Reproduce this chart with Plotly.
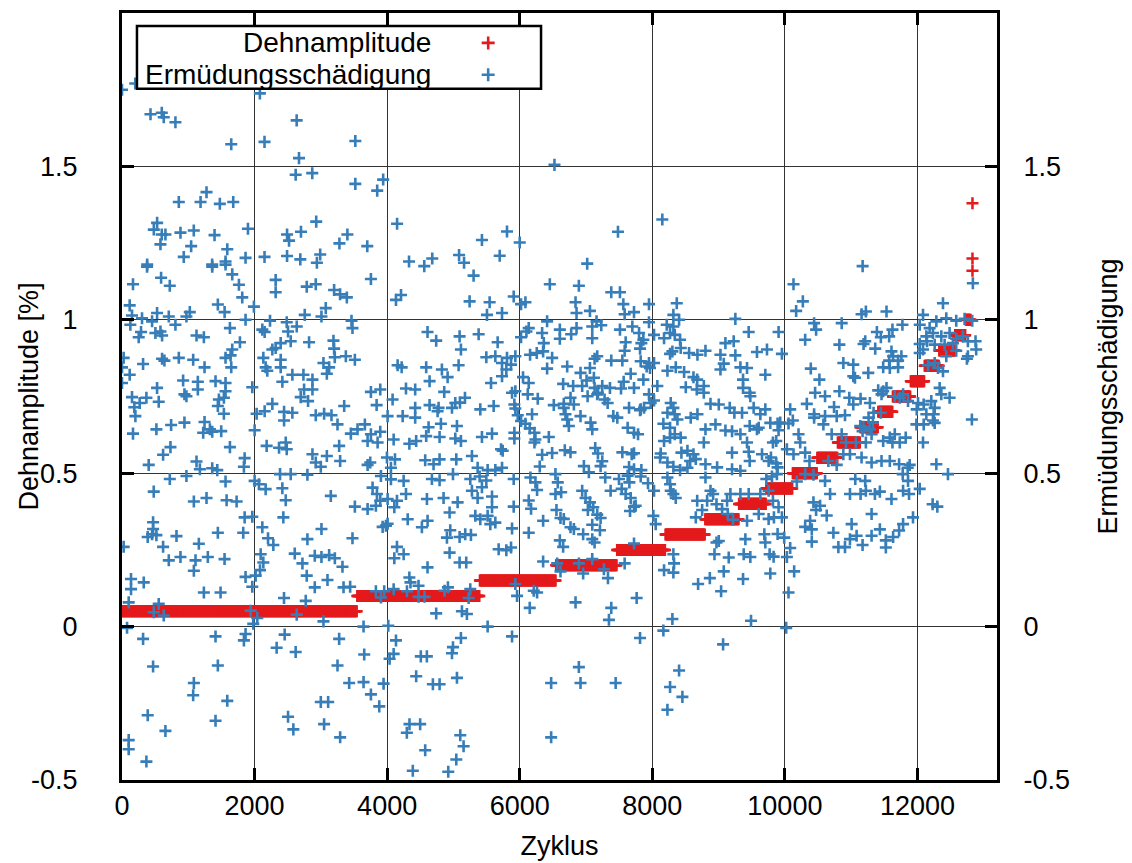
import numpy as np
import plotly.graph_objects as go

# ---------------- data ----------------
# Dehnamplitude: constant-amplitude blocks (level, block boundaries in cycles)
step_levels = [0.05, 0.10, 0.15, 0.20, 0.25, 0.30, 0.35, 0.40, 0.45, 0.50,
               0.55, 0.60, 0.65, 0.70, 0.75, 0.80, 0.85, 0.90, 0.95, 1.00]
step_bounds = [0, 3550, 5400, 6550, 7470, 8200, 8800, 9310, 9720, 10120, 10490,
               10800, 11140, 11410, 11630, 11900, 12110, 12330, 12570, 12730, 12810]
step_spacing = 10
final_x = [12830, 12830, 12830]
final_y = [1.16, 1.20, 1.38]

# Ermüdungsschädigung (cycle, value)
damage_left = [
(0,1.75),(200,1.77),(430,1.67),(600,1.675),(630,1.66),(806,1.644),(1648,1.572),(2080,1.738),(2150,1.58),
(2635,1.65),(2670,1.527),(2620,1.473),(2870,1.478),(3520,1.583),(3520,1.443),(3850,1.421),(3940,1.457),
(4150,1.313),(857,1.384),(1185,1.384),(1275,1.416),(1476,1.378),(1678,1.384),(530,1.316),(480,1.294),
(600,1.278),(655,1.278),(882,1.284),(1083,1.291),(1396,1.276),(1900,1.297),(580,1.246),(1043,1.24),
(1588,1.23),(932,1.205),(1360,1.18),(1562,1.19),(1864,1.202),(380,1.18),(2150,1.205),(2490,1.208),
(2690,1.197),(2990,1.213),(2940,1.186),(2490,1.278),(2520,1.258),(2700,1.287),(2930,1.32),(3280,1.249),
(3400,1.278),(3700,1.24),(4330,1.19),
(378,1.173),(1361,1.173),(1562,1.18),(1663,1.148),(1764,1.114),(166,1.116),(590,1.137),(721,1.111),
(1814,1.073),(1990,1.043),(1446,1.05),(1548,1.025),(2318,1.13),(2318,1.09),(2787,1.108),(2923,1.116),
(3200,1.097),(3290,1.083),(3392,1.073),(3755,1.133),(4133,1.065),(4209,1.081),(2757,1.016),(3009,1.011),
(3074,1.038),(3462,0.997),(3477,0.973),(116,1.047),
(151,1.014),(302,1.005),(454,0.995),(529,1.022),(706,1.011),(806,0.984),(972,1.011),(1023,1.025),
(126,0.984),(287,0.96),(252,0.943),(504,0.957),(580,0.962),(605,0.949),(1124,0.949),(1235,0.943),
(1628,0.973),(1864,1.0),(1779,0.927),(2233,0.997),(2117,0.968),(2152,0.96),(2485,0.992),(2636,0.978),
(2505,0.962),(2545,0.93),(2394,0.924),(2318,0.908),(2268,0.903),(2822,0.927),(3190,0.932),(3200,0.906),
(3210,0.878),(3377,0.881),(3513,0.87),(3039,0.859),(3125,0.845),(3090,0.824),(4158,0.852),(4219,0.845),
(25,0.876),(0,0.845),(116,0.821),(0,0.794),(318,0.856),(605,0.873),(640,0.867),(857,0.876),(1074,0.87),
(1245,0.845),(1562,0.876),(1638,0.884),(1648,0.845),(1663,0.903),(2132,0.876),(2394,0.87),(2394,0.845),
(2167,0.845),(2192,0.834),(2419,0.798),(2570,0.821),(2737,0.821),(2873,0.805),(2747,0.773),(2873,0.773),
(2696,0.748),(2807,0.735),(922,0.802),(1144,0.798),(1144,0.773),(942,0.757),(972,0.751),(1411,0.8),
(1562,0.794),(1562,0.767),(529,0.778),(1965,0.78),(3755,0.765),(3896,0.773),(4284,0.776),(3841,0.722),
(4082,0.74),
(151,0.748),(186,0.715),(267,0.729),(368,0.746),(554,0.733),(202,0.686),(1462,0.74),(1537,0.746),
(1446,0.719),(1537,0.694),(2031,0.694),(2152,0.702),(2268,0.726),(2445,0.7),(2570,0.697),(2445,0.672),
(2923,0.689),(3049,0.694),(3160,0.689),(3251,0.659),(3352,0.719),(1245,0.667),(1326,0.643),(1225,0.632),
(1361,0.635),(1497,0.637),(741,0.657),(519,0.643),(942,0.665),(166,0.629),(2001,0.64),(3452,0.629),
(3553,0.643),(3664,0.659),(3755,0.627),(3705,0.605),(3856,0.6),(3896,0.635),(4098,0.61),(4007,0.686),
(4234,0.686),(4335,0.596),
(731,0.585),(620,0.56),(1628,0.585),(2182,0.589),(2369,0.583),(2470,0.6),(2485,0.578),(3276,0.589),
(403,0.527),(1124,0.538),(1175,0.513),(1361,0.516),(1437,0.51),(1850,0.549),(1839,0.521),(2873,0.562),
(2923,0.535),(2999,0.521),(3090,0.556),(3291,0.54),(3705,0.527),(3745,0.535),(3997,0.551),(4118,0.545),
(4057,0.518),
(721,0.481),(972,0.491),(1562,0.473),(479,0.44),(1084,0.408),(1275,0.419),(1578,0.412),(1729,0.408),
(469,0.34),(469,0.318),(1850,0.356),(1965,0.358),(2001,0.475),(2066,0.464),(2167,0.448),(2384,0.497),
(2545,0.497),(2797,0.495),(2419,0.451),(2470,0.412),(3150,0.426),(3513,0.391),(3705,0.383),(3830,0.394),
(3780,0.453),(3846,0.432),(3906,0.491),(3896,0.41),(4007,0.416),(4108,0.389),(4148,0.41),(4057,0.48),
(4249,0.475),(4284,0.432),(2434,0.356),(2117,0.324),(3009,0.318),(4310,0.35),(3982,0.329),
(454,0.301),(388,0.292),(519,0.298),(822,0.295),(1159,0.27),(1446,0.306),(1829,0.306),(25,0.26),
(620,0.26),(706,0.216),(882,0.227),(1109,0.216),(1295,0.227),(1547,0.22),(1084,0.182),(2203,0.288),
(2283,0.266),(2092,0.236),(2132,0.209),(2082,0.184),(2016,0.166),(1864,0.162),(1965,0.13),(136,0.155),
(328,0.144),(136,0.122),(101,0.079),(1235,0.111),(1487,0.111),(2606,0.238),(2722,0.206),(2787,0.166),
(2908,0.128),(3100,0.152),(3342,0.128),(3442,0.13),(2797,0.285),(2908,0.231),(3009,0.227),(3125,0.233),
(3211,0.223),(3326,0.195),(3477,0.288),(2444,0.093),(2772,0.084),(554,0.074),(479,0.047),(630,0.036),
(1940,0.052),(2041,0.028),(1980,0.009),(2636,0.039),(3039,0.017),(76,-0.004),(318,-0.04),(1411,-0.032),
(1864,-0.024),(1839,-0.045),(2454,-0.026),(2333,-0.069),(2620,-0.083),(3276,-0.04),(3644,0.0),
(3654,-0.091),(4017,0.003),(469,-0.13),(1446,-0.127),(1084,-0.184),(1074,-0.224),(1588,-0.242),
(3251,-0.127),(3427,-0.184),(3644,-0.181),(3946,-0.186),(3755,-0.221),(3881,-0.26),(388,-0.289),
(655,-0.34),(1411,-0.307),(101,-0.37),(101,-0.4),(368,-0.44),(2505,-0.294),(2585,-0.335),(2999,-0.246),
(3110,-0.246),(3049,-0.318),(3291,-0.361),(4098,-0.089),(4037,-0.105),(4148,0.26),(4108,0.223),
(4249,0.236),(4335,0.16),(4299,0.115),(4098,0.122),(3956,0.115),(3830,0.115),(3906,0.095),(3932,0.325),
(4007,0.335),(4133,-0.045),
]

damage_middle = [
(6524,1.505),(8151,1.327),(7482,1.287),(7018,1.183),(6000,1.252),(5808,1.288),(5430,1.26),(5698,1.209),
(5085,1.211),(5160,1.186),(4680,1.2),(4560,1.175),
(5304,1.144),(5244,1.06),(5546,1.057),(5506,1.016),(5733,1.022),(5909,1.076),(6020,1.051),(6086,1.057),
(6454,1.116),(6892,1.111),(7381,1.09),(7512,1.09),(7563,1.051),(7724,1.025),(7583,1.018),(7950,1.051),
(8369,1.054),(6842,1.057),(6857,1.022),(7059,1.029),(8318,1.016),(8404,1.0),(6413,0.995),
(4609,0.96),(4740,0.932),(5093,0.946),(5113,0.903),(5380,0.953),(5667,0.927),(6101,0.962),(6020,0.943),
(6136,0.973),(6338,0.957),(6363,0.924),(6353,0.897),(6605,0.968),(6605,0.938),(6776,0.953),(6857,0.973),
(7094,0.94),(7094,0.978),(7159,0.995),(7230,0.982),(7512,0.968),(7699,0.978),(7800,0.957),(7835,0.924),
(7865,0.935),(8026,0.951),(7950,0.992),(8177,0.94),(8268,0.957),(8339,0.951),(8419,0.935),(8318,0.978),
(8218,0.984),(7598,0.927),(7583,0.899),(7815,0.906),(5496,0.878),(5632,0.881),(5808,0.876),(5934,0.881),
(5733,0.859),(6156,0.886),(6257,0.892),(6489,0.876),(7129,0.873),(7169,0.881),(7381,0.867),(7548,0.867),
(7825,0.865),(7950,0.859),(7965,0.843),(8268,0.889),(8303,0.897),(8429,0.908),(8555,0.892),(8681,0.886),
(4589,0.845),(4826,0.838),(4912,0.813),(5078,0.852),(4640,0.8),(4861,0.765),(5567,0.794),(5733,0.816),
(5798,0.838),(5869,0.854),(6050,0.813),(6136,0.794),(5884,0.762),(5934,0.767),(6413,0.841),(6716,0.848),
(6917,0.827),(7059,0.843),(7008,0.802),(7119,0.811),(6655,0.791),(6806,0.784),(6942,0.784),(7129,0.778),
(7245,0.784),(7180,0.762),(7361,0.778),(7280,0.74),(7568,0.798),(7528,0.776),(7674,0.824),(7724,0.778),
(7865,0.805),(7915,0.848),(8026,0.859),(8076,0.784),(8228,0.834),(8354,0.845),(8480,0.83),(8621,0.813),
(8505,0.78),(8671,0.773),(7950,0.757),(8026,0.737),(4423,0.773),(5174,0.746),(5098,0.73),(6121,0.757),
(5919,0.724),(6272,0.743),(6514,0.722),(6665,0.726),(6766,0.746),(6817,0.724),(7024,0.751),(7169,0.757),
(7326,0.729),(7649,0.713),(7815,0.705),(7875,0.713),(8278,0.729),(8318,0.713),
(4423,0.713),(4640,0.722),(4776,0.713),(4761,0.702),(4978,0.713),(5028,0.729),(5405,0.708),(5607,0.719),
(4423,0.681),(4811,0.661),(4625,0.65),(5053,0.654),(4589,0.621),(4791,0.618),(5028,0.613),(5113,0.605),
(5430,0.618),(5582,0.629),(5919,0.632),(5919,0.613),(4438,0.605),(5718,0.578),(5743,0.573),(5934,0.711),
(5970,0.689),(6020,0.67),(6086,0.661),(6151,0.646),(6222,0.632),(6237,0.61),(6222,0.6),(6186,0.692),
(6665,0.713),(6690,0.692),(6716,0.675),(6741,0.654),(6917,0.686),(7069,0.665),(7094,0.643),(6439,0.618),
(6489,0.566),(6338,0.56),(6302,0.522),(6680,0.575),(6766,0.568),(7139,0.582),(7180,0.564),(7245,0.539),
(7220,0.523),(6968,0.523),(7043,0.503),(7412,0.686),(7472,0.681),(7628,0.648),(7724,0.632),(7785,0.627),
(7548,0.568),(7689,0.562),(7724,0.565),(7649,0.52),(7724,0.513),(7835,0.51),(7976,0.729),(7825,0.708),
(8228,0.697),(8339,0.692),(8379,0.675),(8167,0.661),(8268,0.648),(8177,0.605),(8268,0.616),(8339,0.627),
(8429,0.616),(8127,0.564),(8117,0.551),(8439,0.567),(8530,0.573),(8621,0.562),(8656,0.546),(8571,0.54),
(8228,0.535),(8318,0.521),(8419,0.51),(8530,0.518),(8681,0.692),(8580,0.681),(4574,0.542),(4700,0.529),
(4791,0.545),(5043,0.545),(5279,0.556),(5365,0.518),(5516,0.51),(5632,0.51),(5733,0.518),
(4675,0.481),(4791,0.477),(4993,0.497),(5254,0.481),(5395,0.489),(5496,0.476),(5430,0.454),(5279,0.443),
(5365,0.419),(4600,0.416),(4851,0.419),(5063,0.405),(4942,0.372),(5582,0.424),(5582,0.389),(5516,0.361),
(5556,0.334),(5632,0.339),(5330,0.361),(5405,0.35),(4610,0.345),(4524,0.324),(5909,0.481),(5909,0.391),
(6161,0.486),(6237,0.47),(6262,0.445),(6539,0.497),(6574,0.47),(6625,0.438),(6539,0.432),(6136,0.411),
(6171,0.384),(6353,0.345),(6554,0.38),(6615,0.354),(6665,0.351),(6942,0.443),(6993,0.419),(7059,0.405),
(7109,0.389),(7028,0.38),(7169,0.365),(7220,0.354),(7094,0.332),(7290,0.486),(7371,0.443),(7497,0.481),
(7538,0.449),(7598,0.432),(7628,0.492),(7654,0.47),(7674,0.419),(7724,0.391),(7749,0.394),(7664,0.377),
(7825,0.489),(7935,0.467),(8026,0.443),(8016,0.361),(8051,0.334),(8228,0.486),(8268,0.464),(8278,0.443),
(8318,0.432),(8354,0.419),(8656,0.356),(6766,0.324),(6817,0.318),
(5884,0.32),(4952,0.314),(4902,0.29),(5093,0.292),(5178,0.301),(5264,0.299),(4942,0.241),(5093,0.209),
(5193,0.209),(4609,0.193),(5682,0.252),(5798,0.249),(5869,0.258),(4352,0.144),(4473,0.133),(4473,0.097),
(4564,0.097),(4866,0.117),(4917,0.128),(5254,0.122),(5229,0.093),(4740,0.043),(5128,0.05),(5203,0.041),
(5516,0.0),(5884,-0.032),(5934,0.139),(5960,0.1),(6136,0.306),(6151,0.061),(6212,0.117),(6262,0.111),
(6353,0.212),(6605,0.281),(6655,0.26),(6957,0.301),(7094,0.285),(7129,0.274),(7210,0.314),(6565,0.206),
(6615,0.18),(6892,0.206),(6957,0.173),(7094,0.22),(7270,0.187),(7331,0.158),(7583,0.206),(7724,0.271),
(6842,0.079),(7381,0.061),(7346,0.022),(7764,0.093),(8318,0.236),(8177,0.184),(8328,0.206),(8318,0.176),
(8691,0.139),(8303,0.025),(8167,-0.013),(7815,-0.037),(5113,-0.037),(4993,-0.067),(4978,-0.087),
(4508,-0.097),(4599,-0.097),(4438,-0.162),(4690,-0.188),(4791,-0.188),(5053,-0.167),(6892,-0.132),
(6474,-0.184),(6917,-0.184),(7447,-0.184),(8404,-0.143),(8268,-0.197),(8454,-0.229),(8228,-0.271),
(4337,-0.318),(4498,-0.318),(4297,-0.346),(5103,-0.354),(5153,-0.39),(4574,-0.403),(5043,-0.433),
(4387,-0.47),(4922,-0.473),(6474,-0.361),
]

damage_right = [
(11173,1.175),(10130,1.116),(10271,1.06),(10170,1.029),(12385,1.054),(12836,1.119),(11157,1.018),
(11222,1.027),(11533,1.027),(9253,1.003),(9454,0.96),(9905,0.96),(10441,0.989),(10471,0.968),(10857,0.989),
(10306,0.935),(10822,0.919),(11212,0.93),(11388,0.96),(11448,0.943),(11573,0.946),(11623,0.968),
(11773,0.984),(11363,0.906),(11187,0.921),(12034,0.984),(12084,1.016),(12184,0.973),(12285,0.995),
(12435,1.005),(12585,0.997),(12711,1.003),(12826,0.997),(12134,0.946),(12234,0.957),(12360,0.946),
(12485,0.957),(12585,0.938),(12686,0.946),(12761,0.93),(12876,0.93),(12886,0.903),(12034,0.921),
(12084,0.903),(12144,0.93),(12260,0.919),(12410,0.919),(12535,0.924),(12435,0.881),(12585,0.899),
(12761,0.881),(12746,0.873),(12034,0.892),(12385,0.832),(12310,0.843),(12159,0.852),(12260,0.859),
(12821,0.675),
(9103,0.924),(9228,0.93),(8802,0.899),(9028,0.886),(9253,0.884),(9579,0.895),(9730,0.903),(9955,0.889),
(9078,0.857),(9028,0.838),(9329,0.845),(9429,0.843),(9705,0.821),(8677,0.805),(8777,0.784),(8777,0.762),
(9369,0.805),(9369,0.778),(9479,0.751),(9469,0.762),(10391,0.841),(10521,0.805),(10882,0.859),
(11032,0.854),(11032,0.816),(11057,0.811),(11258,0.827),(11483,0.845),(11573,0.867),(11583,0.843),
(11708,0.845),(11633,0.881),(11758,0.881),(11608,0.897),(11708,0.867),(11533,0.778),(11483,0.767),
(11458,0.757),(11408,0.77),(11032,0.724),(11283,0.729),(11142,0.743),(10972,0.746),(10822,0.767),
(10606,0.751),(10456,0.762),(10331,0.726),(10441,0.692),(10606,0.686),(10742,0.716),(10782,0.686),
(10907,0.689),(11783,0.757),(11858,0.735),(12009,0.729),(12209,0.735),(12335,0.778),(12360,0.757),
(12485,0.746),(12260,0.713),(12245,0.692),(12134,0.692),(12234,0.672),(12260,0.664),(12094,0.659),
(11984,0.659),(11733,0.746),(11658,0.751),(11989,0.708),(12094,0.724),(11448,0.697),(11338,0.697),
(11263,0.681),(11328,0.665),(11187,0.651),(11137,0.654),
(8878,0.726),(9003,0.724),(9168,0.713),(9238,0.697),(9354,0.697),(9529,0.713),(9630,0.692),(9705,0.708),
(9469,0.654),(9579,0.643),(9780,0.664),(9890,0.662),(9905,0.64),(8802,0.643),(8777,0.6),(8953,0.659),
(9103,0.639),(9203,0.637),(9329,0.627),(9429,0.6),(9605,0.648),(9820,0.6),(9870,0.605),(10080,0.708),
(10120,0.672),(9930,0.665),(10206,0.627),(10231,0.6),(10055,0.662),(10030,0.578),(10130,0.562),
(10441,0.681),(10581,0.659),(10706,0.627),(10857,0.627),(10922,0.6),(11072,0.6),(11172,0.637),
(11283,0.643),(11308,0.627),(11222,0.6),(11483,0.605),(11583,0.616),(11658,0.627),(11733,0.6),
(11823,0.616),(11623,0.6),(12084,0.6),
(8802,0.529),(9203,0.567),(9454,0.57),(9469,0.54),(9655,0.562),(9790,0.551),(9870,0.532),(9890,0.519),
(9755,0.54),(8978,0.519),(9203,0.513),(9329,0.508),(10306,0.567),(10371,0.54),(10656,0.54),(10782,0.527),
(10882,0.562),(10982,0.562),(11157,0.551),(11308,0.535),(11458,0.54),(11583,0.54),(11723,0.529),
(11883,0.527),(12285,0.529),(12460,0.497),(11853,0.518),(11778,0.497),
(8802,0.486),(8878,0.443),(8918,0.432),(8677,0.41),(8752,0.38),(9128,0.41),(9178,0.432),(9329,0.432),
(9454,0.432),(9630,0.432),(8827,0.41),(8968,0.399),(9053,0.383),(9138,0.367),(9218,0.348),(9429,0.345),
(9605,0.367),(9755,0.351),(9835,0.356),(9955,0.356),(9905,0.389),(9820,0.41),(9720,0.481),(9755,0.443),
(9880,0.497),(9805,0.489),(10180,0.473),(10306,0.497),(10431,0.495),(10606,0.475),(10682,0.432),
(10431,0.405),(10471,0.38),(10531,0.394),(10631,0.362),(10381,0.345),(10982,0.432),(11142,0.432),
(11222,0.443),(11358,0.432),(11433,0.44),(11608,0.416),(11783,0.443),(12034,0.449),(11858,0.475),
(11873,0.432),(11308,0.367),(11007,0.334),(11783,0.334),(11933,0.356),(12229,0.399),(12300,0.391),
(11062,0.481),(11212,0.475),
(9003,0.279),(8968,0.274),(8938,0.236),(9153,0.225),(9078,0.18),(8868,0.158),(9038,0.115),(9369,0.155),
(9379,0.236),(9479,0.227),(9404,0.285),(9690,0.301),(9770,0.236),(9780,0.173),(9830,0.228),(9890,0.302),
(9990,0.29),(10080,0.256),(10030,0.227),(10140,0.18),(10055,0.111),(9705,0.274),(9489,0.019),
(10020,-0.004),(9068,-0.058),(10306,0.325),(10406,0.317),(10406,0.277),(10732,0.306),(10807,0.259),
(10907,0.259),(10982,0.285),(11082,0.296),(11172,0.266),(11308,0.296),(11433,0.317),(11523,0.281),
(11523,0.258),(11633,0.292),(11723,0.313),
]

x_tick_vals = [0, 2000, 4000, 6000, 8000, 10000, 12000]
x_tick_text = ["0", "2000", "4000", "6000", "8000", "10000", "12000"]
y_tick_vals = [-0.5, 0, 0.5, 1, 1.5]
y_tick_text = ["-0.5", "0", "0.5", "1", "1.5"]

# ---------------- build ----------------
RED = "#e41a1c"
BLUE = "#377eb8"
FONT = "Liberation Sans, Arial, sans-serif"
FS = 27

red_x, red_y = [], []
for lvl, a, b in zip(step_levels, step_bounds[:-1], step_bounds[1:]):
    xs = np.arange(a, b, step_spacing)
    red_x.extend(xs.tolist())
    red_y.extend([lvl] * len(xs))
red_x += final_x
red_y += final_y

damage = damage_left + damage_middle + damage_right
blue_x = [p[0] for p in damage]
blue_y = [p[1] for p in damage]

mk = dict(symbol="cross-thin", size=8.6)

fig = go.Figure()
fig.add_trace(go.Scatter(
    x=red_x, y=red_y, mode="markers", name="Dehnamplitude",
    marker=dict(**mk, color=RED, line=dict(color=RED, width=2.5)),
    xaxis="x", yaxis="y", showlegend=False))
fig.add_trace(go.Scatter(
    x=blue_x, y=blue_y, mode="markers", name="Ermüdungsschädigung",
    marker=dict(**mk, color=BLUE, line=dict(color=BLUE, width=2.6)),
    xaxis="x", yaxis="y2", showlegend=False))

yr = [-0.5, 2.0]
common_axis = dict(showline=True, linecolor="black", linewidth=3,
                   ticks="inside", ticklen=12, tickwidth=3, tickcolor="black",
                   tickfont=dict(family=FONT, size=FS, color="black"),
                   zeroline=False)

# the page adds an 8px body margin, so the figure is 8px smaller than the window
fig.update_layout(
    width=1124, height=855,
    margin=dict(l=114, r=135, t=2, b=83),
    paper_bgcolor="white", plot_bgcolor="white",
    font=dict(family=FONT, size=FS, color="black"),
    xaxis=dict(range=[0, 13200], tickmode="array", tickvals=x_tick_vals, ticktext=x_tick_text,
               mirror="ticks", showgrid=True, gridcolor="#333333", gridwidth=1,
               title=dict(text="Zyklus", font=dict(family=FONT, size=FS), standoff=16),
               **common_axis),
    yaxis=dict(range=yr, tickmode="array", tickvals=y_tick_vals, ticktext=y_tick_text,
               showgrid=True, gridcolor="#333333", gridwidth=1, ticklabelstandoff=36,
               **common_axis),
    yaxis2=dict(range=yr, tickmode="array", tickvals=y_tick_vals, ticktext=y_tick_text,
                overlaying="y", side="right", showgrid=False, ticklabelstandoff=18,
                title=dict(text="Ermüdungsschädigung", font=dict(family=FONT, size=FS), standoff=30),
                **common_axis),
)

# left axis title placed as rotated text
fig.add_annotation(text="Dehnamplitude [%]", xref="paper", yref="paper",
                   x=(20 - 114) / 875.0, y=0.5, textangle=-90,
                   xanchor="center", yanchor="middle", showarrow=False,
                   font=dict(family=FONT, size=FS, color="black"))

# custom legend (text left, symbol right) as in the reference
bx0, bx1, by0, by1 = 0.0171, 0.4789, 0.9013, 0.9831
fig.add_shape(type="rect", xref="paper", yref="paper", x0=bx0, x1=bx1, y0=by0, y1=by1,
              line=dict(color="black", width=2.5), fillcolor="white", layer="above")
legend_rows = [("Dehnamplitude", RED, 0.961), ("Ermüdungsschädigung", BLUE, 0.9195)]
kx = 0.4185
dx, dy = 6.5 / 875.0, 6.5 / 770.0
for label, col, ly in legend_rows:
    fig.add_annotation(text=label, xref="paper", yref="paper", x=0.3554, y=ly,
                       xanchor="right", yanchor="middle", showarrow=False,
                       font=dict(family=FONT, size=FS + 1, color="black"))
    fig.add_shape(type="path", xref="paper", yref="paper", layer="above",
                  path=f"M {kx-dx},{ly} L {kx+dx},{ly} M {kx},{ly-dy} L {kx},{ly+dy}",
                  line=dict(color=col, width=2.6))

fig.write_html("out.html")
